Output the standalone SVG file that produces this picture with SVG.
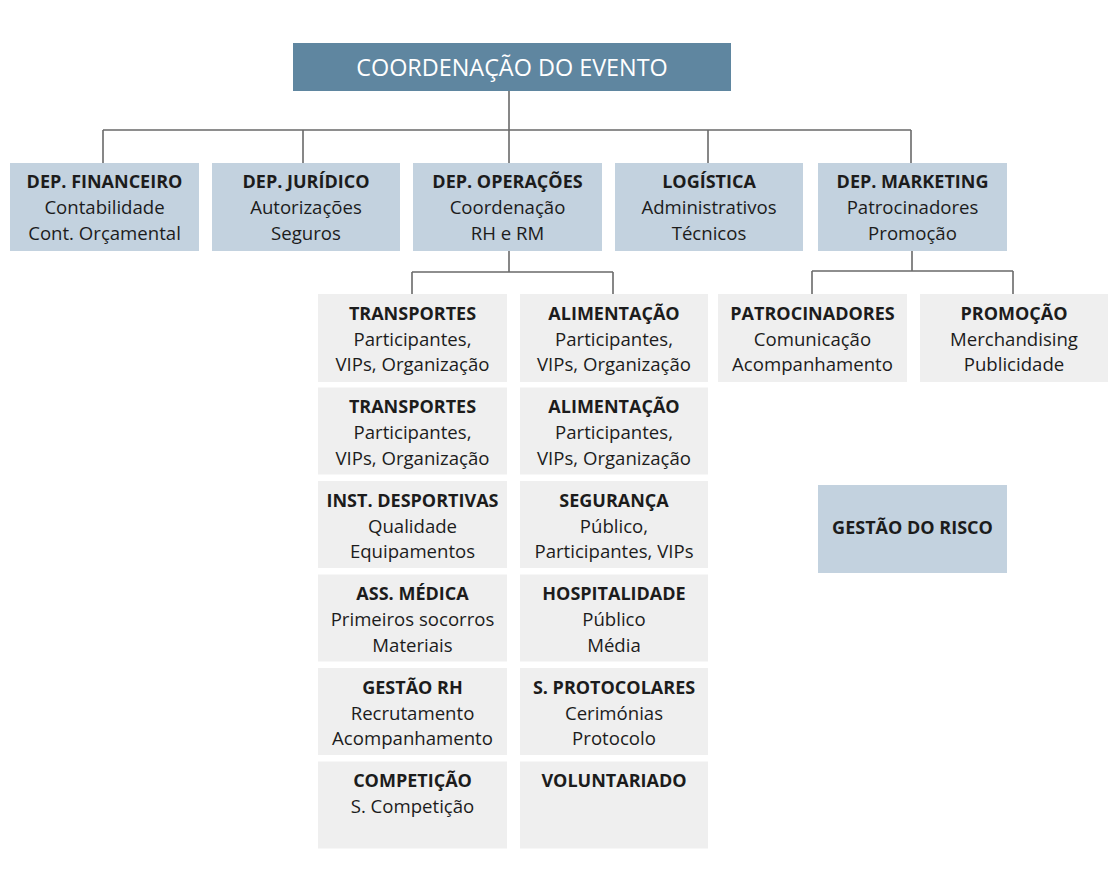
<svg xmlns="http://www.w3.org/2000/svg" width="1116" height="872" viewBox="0 0 1116 872">
<style>
.top{fill:#5f86a0}
.dep{fill:#c3d2df}
.sub{fill:#efefef}
text{font-family:"Open Sans","Noto Sans","DejaVu Sans",sans-serif;text-anchor:middle;fill:#1c1c1c;font-size:18.6px}
.t{font-weight:700;font-size:18px}
.tt{fill:#ffffff;font-size:23.4px}
.c{fill:none;stroke:#6a6a6a;stroke-width:1.6}
</style>
<rect width="1116" height="872" fill="#ffffff"/>
<g id="connectors">
<path class="c" d="M509 91V130M103 130H911M103 130V163M303 130V163M509 130V163M708 130V163M911 130V163"/>
<path class="c" d="M509 251V272M412 272H613M412 272V294M613 272V294"/>
<path class="c" d="M912 251V271M812 271H1013M812 271V294M1013 271V294"/>
</g>
<g id="coordenacao"><rect class="top" x="293" y="43" width="438" height="48"/><text class="tt" x="512" y="75.5">COORDENAÇÃO DO EVENTO</text></g>
<g id="financeiro"><rect class="dep" x="10" y="163" width="189" height="88"/><text class="t" x="104.5" y="188">DEP. FINANCEIRO</text><text x="104.5" y="214">Contabilidade</text><text x="104.5" y="239.5">Cont. Orçamental</text></g>
<g id="juridico"><rect class="dep" x="212" y="163" width="188" height="88"/><text class="t" x="306" y="188">DEP. JURÍDICO</text><text x="306" y="214">Autorizações</text><text x="306" y="239.5">Seguros</text></g>
<g id="operacoes"><rect class="dep" x="413" y="163" width="189" height="88"/><text class="t" x="507.5" y="188">DEP. OPERAÇÕES</text><text x="507.5" y="214">Coordenação</text><text x="507.5" y="239.5">RH e RM</text></g>
<g id="logistica"><rect class="dep" x="615" y="163" width="188" height="88"/><text class="t" x="709" y="188">LOGÍSTICA</text><text x="709" y="214">Administrativos</text><text x="709" y="239.5">Técnicos</text></g>
<g id="marketing"><rect class="dep" x="818" y="163" width="189" height="88"/><text class="t" x="912.5" y="188">DEP. MARKETING</text><text x="912.5" y="214">Patrocinadores</text><text x="912.5" y="239.5">Promoção</text></g>

<g id="transportes1"><rect class="sub" x="318" y="294" width="189" height="88"/><text class="t" x="412.5" y="319.5">TRANSPORTES</text><text x="412.5" y="345.5">Participantes,</text><text x="412.5" y="371">VIPs, Organização</text></g>
<g id="alimentacao1"><rect class="sub" x="520" y="294" width="188" height="88"/><text class="t" x="614" y="319.5">ALIMENTAÇÃO</text><text x="614" y="345.5">Participantes,</text><text x="614" y="371">VIPs, Organização</text></g>
<g id="transportes2"><rect class="sub" x="318" y="387.5" width="189" height="87"/><text class="t" x="412.5" y="413">TRANSPORTES</text><text x="412.5" y="439">Participantes,</text><text x="412.5" y="464.5">VIPs, Organização</text></g>
<g id="alimentacao2"><rect class="sub" x="520" y="387.5" width="188" height="87"/><text class="t" x="614" y="413">ALIMENTAÇÃO</text><text x="614" y="439">Participantes,</text><text x="614" y="464.5">VIPs, Organização</text></g>
<g id="desportivas"><rect class="sub" x="318" y="481" width="189" height="87"/><text class="t" x="412.5" y="506.5">INST. DESPORTIVAS</text><text x="412.5" y="532.5">Qualidade</text><text x="412.5" y="558">Equipamentos</text></g>
<g id="seguranca"><rect class="sub" x="520" y="481" width="188" height="87"/><text class="t" x="614" y="506.5">SEGURANÇA</text><text x="614" y="532.5">Público,</text><text x="614" y="558">Participantes, VIPs</text></g>
<g id="medica"><rect class="sub" x="318" y="574.5" width="189" height="87"/><text class="t" x="412.5" y="600">ASS. MÉDICA</text><text x="412.5" y="626">Primeiros socorros</text><text x="412.5" y="651.5">Materiais</text></g>
<g id="hospitalidade"><rect class="sub" x="520" y="574.5" width="188" height="87"/><text class="t" x="614" y="600">HOSPITALIDADE</text><text x="614" y="626">Público</text><text x="614" y="651.5">Média</text></g>
<g id="gestaorh"><rect class="sub" x="318" y="668" width="189" height="87"/><text class="t" x="412.5" y="693.5">GESTÃO RH</text><text x="412.5" y="719.5">Recrutamento</text><text x="412.5" y="745">Acompanhamento</text></g>
<g id="protocolares"><rect class="sub" x="520" y="668" width="188" height="87"/><text class="t" x="614" y="693.5">S. PROTOCOLARES</text><text x="614" y="719.5">Cerimónias</text><text x="614" y="745">Protocolo</text></g>
<g id="competicao"><rect class="sub" x="318" y="761.5" width="189" height="87"/><text class="t" x="412.5" y="787">COMPETIÇÃO</text><text x="412.5" y="813">S. Competição</text></g>
<g id="voluntariado"><rect class="sub" x="520" y="761.5" width="188" height="87"/><text class="t" x="614" y="787">VOLUNTARIADO</text></g>

<g id="patrocinadores"><rect class="sub" x="718" y="294" width="189" height="88"/><text class="t" x="812.5" y="319.5">PATROCINADORES</text><text x="812.5" y="345.5">Comunicação</text><text x="812.5" y="371">Acompanhamento</text></g>
<g id="promocao"><rect class="sub" x="920" y="294" width="188" height="88"/><text class="t" x="1014" y="319.5">PROMOÇÃO</text><text x="1014" y="345.5">Merchandising</text><text x="1014" y="371">Publicidade</text></g>
<g id="risco"><rect class="dep" x="818" y="485" width="189" height="88"/><text class="t" x="912.5" y="534">GESTÃO DO RISCO</text></g>
</svg>
